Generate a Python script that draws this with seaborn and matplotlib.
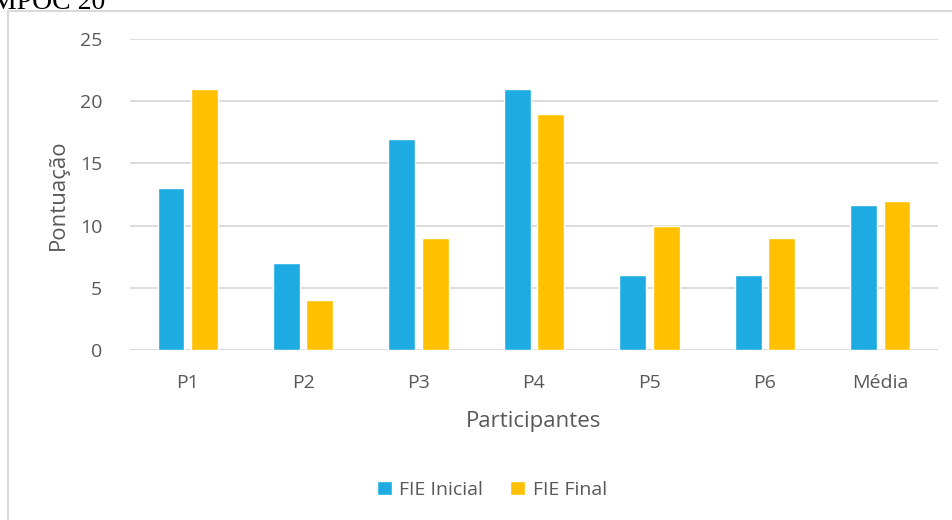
import pandas as pd
import matplotlib.pyplot as plt
import seaborn as sns
from matplotlib.patches import Rectangle

participantes = ["P1", "P2", "P3", "P4", "P5", "P6", "Média"]
fie_inicial = [13, 7, 17, 21, 6, 6, 11.67]
fie_final = [21, 4, 9, 19, 10, 9, 12]
series_names = ["FIE Inicial", "FIE Final"]
colors = ["#1DABE2", "#FFC000"]

df = pd.DataFrame({
    "Participantes": participantes * 2,
    "Pontuação": fie_inicial + fie_final,
    "Série": [series_names[0]] * len(participantes) + [series_names[1]] * len(participantes),
})

sns.set_theme(style="white")
plt.rcParams["font.family"] = ["Open Sans", "DejaVu Sans"]

fig = plt.figure(figsize=(9.52, 5.2), dpi=100)
ax = fig.add_axes([130 / 952, 1 - 350 / 520, 808 / 952, 311 / 520])

sns.barplot(
    data=df, x="Participantes", y="Pontuação", hue="Série",
    palette=colors, width=0.58, gap=0.2, ax=ax, saturation=1,
)

ax.set_ylim(0, 25)
ax.set_yticks(range(0, 26, 5))
ax.yaxis.grid(True, color="#D9D9D9", linewidth=1.3)
ax.set_axisbelow(True)
for s in ax.spines.values():
    s.set_visible(False)
ax.tick_params(axis="both", length=0, colors="#595959", labelsize=14)
ax.tick_params(axis="x", pad=17)
ax.tick_params(axis="y", pad=20)
ax.set_xlabel("Participantes", fontsize=16, color="#595959", labelpad=14)
ax.set_ylabel("Pontuação", fontsize=16, color="#595959", labelpad=8)

ax.legend(
    loc="center", bbox_to_anchor=(492 / 952, 1 - 490 / 520),
    bbox_transform=fig.transFigure, ncol=2, frameon=False,
    fontsize=14, handlelength=0.75, handleheight=0.75, columnspacing=1.4,
    handletextpad=0.4, labelcolor="#595959",
)

# chart border (cropped image)
fig.patches.append(Rectangle((8 / 952, -0.05), 1.2, 1 - 11 / 520 + 0.05,
                             transform=fig.transFigure, fill=False,
                             edgecolor="#D9D9D9", linewidth=1.5))
fig.text(-8 / 952, 1 - 9 / 520, "MPOC 20", family="Liberation Serif",
         fontsize=20, va="baseline", ha="left", color="black")

fig.savefig("out.png", dpi=100)
